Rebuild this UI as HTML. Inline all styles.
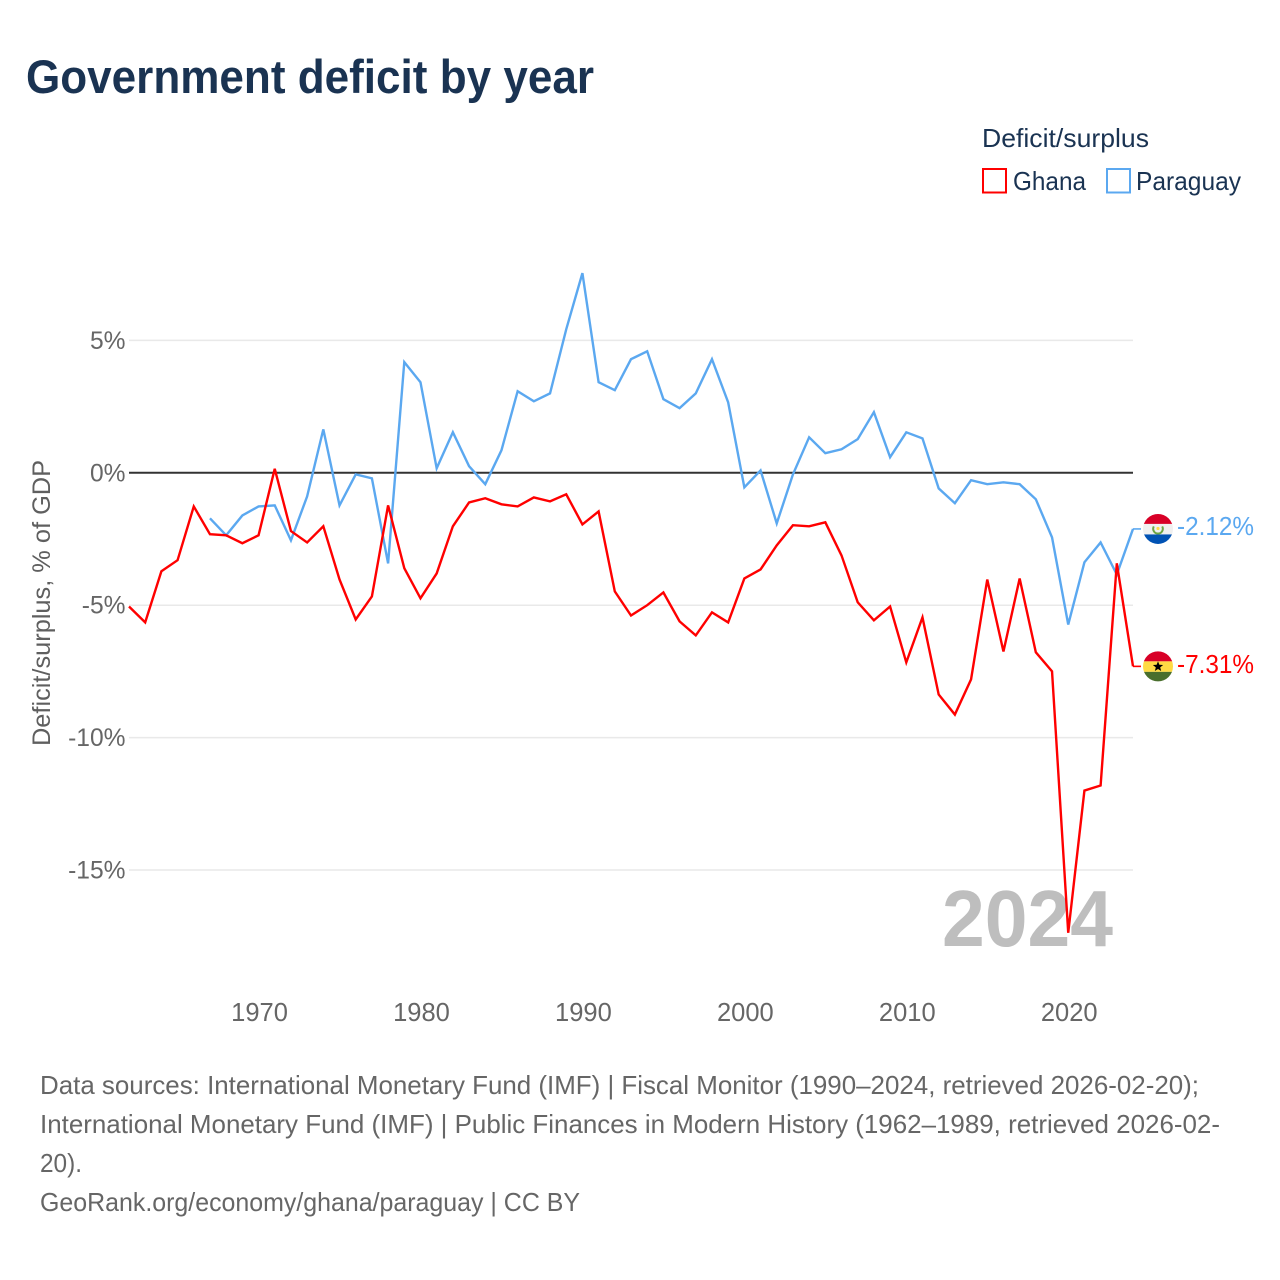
<!DOCTYPE html>
<html lang="en">
<head>
<meta charset="utf-8">
<title>Government deficit by year</title>
<style>
html,body{margin:0;padding:0;background:#fff;width:1280px;height:1280px;overflow:hidden}
svg{display:block;font-family:"Liberation Sans",Arial,sans-serif}
</style>
</head>
<body>
<svg id="chart" xmlns="http://www.w3.org/2000/svg" width="1280" height="1280" viewBox="0 0 1280 1280">
  <rect x="0" y="0" width="1280" height="1280" fill="#ffffff"/>
  <text x="26" y="93" font-size="47" font-weight="700" fill="#1a3352" textLength="568" lengthAdjust="spacingAndGlyphs">Government deficit by year</text>

  <g>
    <text x="982" y="147" font-size="26" fill="#1a3352" textLength="167" lengthAdjust="spacingAndGlyphs">Deficit/surplus</text>
    <g>
      <rect x="983" y="169" width="23" height="23.5" fill="#ffffff" stroke="#ff0000" stroke-width="2"/>
      <text x="1013" y="190" font-size="26" fill="#1a3352" textLength="73" lengthAdjust="spacingAndGlyphs">Ghana</text>
    </g>
    <g>
      <rect x="1107" y="169" width="23" height="23.5" fill="#ffffff" stroke="#5ba8f0" stroke-width="2"/>
      <text x="1136" y="190" font-size="26" fill="#1a3352" textLength="105" lengthAdjust="spacingAndGlyphs">Paraguay</text>
    </g>
  </g>

  <text transform="rotate(-90 50 603)" x="50" y="603" text-anchor="middle" font-size="25" fill="#5f5f5f" textLength="286" lengthAdjust="spacingAndGlyphs">Deficit/surplus, % of GDP</text>

  <g id="grid"></g>
  <g id="yticks"></g>
  <g id="xticks"></g>

  <text x="942" y="946" font-size="80" font-weight="700" fill="#bebebe" textLength="171" lengthAdjust="spacingAndGlyphs">2024</text>

  <g id="series"></g>
  <g id="ends"></g>

  <g font-size="25.6" fill="#666666">
    <text x="40" y="1094" textLength="1159" lengthAdjust="spacingAndGlyphs">Data sources: International Monetary Fund (IMF) | Fiscal Monitor (1990–2024, retrieved 2026-02-20);</text>
    <text x="40" y="1133" textLength="1180" lengthAdjust="spacingAndGlyphs">International Monetary Fund (IMF) | Public Finances in Modern History (1962–1989, retrieved 2026-02-</text>
    <text x="40" y="1172" textLength="42" lengthAdjust="spacingAndGlyphs">20).</text>
    <text x="40" y="1211" textLength="540" lengthAdjust="spacingAndGlyphs">GeoRank.org/economy/ghana/paraguay | CC BY</text>
  </g>
</svg>
<script>
var ghanaYears = [1962,1963,1964,1965,1966,1967,1968,1969,1970,1971,1972,1973,1974,1975,1976,1977,1978,1979,1980,1981,1982,1983,1984,1985,1986,1987,1988,1989,1990,1991,1992,1993,1994,1995,1996,1997,1998,1999,2000,2001,2002,2003,2004,2005,2006,2007,2008,2009,2010,2011,2012,2013,2014,2015,2016,2017,2018,2019,2020,2021,2022,2023,2024];
var ghanaValues = [-5.05,-5.65,-3.72,-3.3,-1.27,-2.32,-2.36,-2.66,-2.36,0.15,-2.2,-2.63,-2.02,-4.03,-5.54,-4.67,-1.23,-3.6,-4.74,-3.8,-2.02,-1.12,-0.96,-1.19,-1.27,-0.93,-1.08,-0.81,-1.95,-1.46,-4.48,-5.39,-5.0,-4.52,-5.61,-6.14,-5.27,-5.65,-3.99,-3.65,-2.74,-1.98,-2.02,-1.87,-3.12,-4.89,-5.57,-5.05,-7.16,-5.46,-8.37,-9.13,-7.8,-4.03,-6.75,-3.99,-6.78,-7.5,-17.37,-12.0,-11.81,-3.42,-7.31];
var paraguayYears = [1967,1968,1969,1970,1971,1972,1973,1974,1975,1976,1977,1978,1979,1980,1981,1982,1983,1984,1985,1986,1987,1988,1989,1990,1991,1992,1993,1994,1995,1996,1997,1998,1999,2000,2001,2002,2003,2004,2005,2006,2007,2008,2009,2010,2011,2012,2013,2014,2015,2016,2017,2018,2019,2020,2021,2022,2023,2024];
var paraguayValues = [-1.72,-2.36,-1.61,-1.27,-1.23,-2.55,-0.89,1.64,-1.23,-0.06,-0.21,-3.42,4.18,3.42,0.17,1.53,0.25,-0.43,0.85,3.08,2.7,3.0,5.42,7.54,3.42,3.12,4.29,4.59,2.78,2.44,3.0,4.29,2.66,-0.55,0.09,-1.91,-0.06,1.34,0.74,0.89,1.27,2.29,0.59,1.53,1.3,-0.59,-1.15,-0.28,-0.43,-0.36,-0.43,-1.0,-2.44,-5.73,-3.38,-2.63,-3.84,-2.12];
var yTickValues = [5,0,-5,-10,-15];
var yTickLabels = ["5%","0%","-5%","-10%","-15%"];
var xTickValues = [1970,1980,1990,2000,2010,2020];
var xTickLabels = ["1970","1980","1990","2000","2010","2020"];
var ghanaEndLabel = "-7.31%";
var paraguayEndLabel = "-2.12%";

var NS = "http://www.w3.org/2000/svg";
function xScale(year){ return 129 + (year - 1962) * (1133 - 129) / (2024 - 1962); }
function yScale(v){ return 472.8 - v * 26.48; }
function mk(tag, attrs, parent){
  var el = document.createElementNS(NS, tag);
  for (var k in attrs) el.setAttribute(k, attrs[k]);
  parent.appendChild(el);
  return el;
}

var grid = document.getElementById("grid");
var yticks = document.getElementById("yticks");
var xticks = document.getElementById("xticks");
var series = document.getElementById("series");
var ends = document.getElementById("ends");

yTickValues.forEach(function(v, i){
  var isZero = v === 0;
  var line = mk("line", {x1:129, x2:1133, y1:yScale(v), y2:yScale(v), stroke:isZero ? "#333333" : "#e9e9e9", "stroke-width":isZero ? 2 : 1.5}, grid);
  
  
  var t = mk("text", {x:125.5, y:yScale(v) + 8.5, "text-anchor":"end", "font-size":24.6, fill:"#666666"}, yticks);
  
  
  t.textContent = yTickLabels[i];
});

xTickValues.forEach(function(year, i){
  var t = mk("text", {x:xScale(year) + 1, y:1021, "text-anchor":"middle", "font-size":25.5, fill:"#666666"}, xticks);
  
  
  t.textContent = xTickLabels[i];
});

function linePoints(years, values){
  return years.map(function(y, i){ return xScale(y).toFixed(2) + "," + yScale(values[i]).toFixed(2); });
}

var paraguayLine = mk("polyline", {points:linePoints(paraguayYears, paraguayValues).join(" "), fill:"none", stroke:"#5ba8f0", "stroke-width":2.4, "stroke-linejoin":"miter"}, series);



var ghanaLine = mk("polyline", {points:linePoints(ghanaYears, ghanaValues).join(" "), fill:"none", stroke:"#ff0000", "stroke-width":2.4, "stroke-linejoin":"miter"}, series);



function endMarker(lastYear, lastValue, color){
  var x = xScale(lastYear), y = yScale(lastValue);
  var c = mk("line", {x1:x, x2:x + 8, y1:y, y2:y, stroke:color, "stroke-width":1.6}, ends);
  
  
  return {x:x + 25, y:y};
}

function band(g, cx, cy, top, h, color){
  var r = mk("rect", {x:cx - 16, y:cy + top, width:32, height:h, fill:color}, g);
  
  
}

function flagGroup(id, p){
  var defs = mk("defs", {}, ends);
  var clip = mk("clipPath", {id:id}, defs);
  mk("circle", {cx:p.x, cy:p.y, r:15}, clip);
  var g = mk("g", {"clip-path":"url(#" + id + ")"}, ends);
  return g;
}

var pEnd = endMarker(paraguayYears[paraguayYears.length - 1], paraguayValues[paraguayValues.length - 1], "#5ba8f0");
var pFlag = flagGroup("clip-paraguay", pEnd);


band(pFlag, pEnd.x, pEnd.y, -16, 11, "#d80027");
band(pFlag, pEnd.x, pEnd.y, -5, 10.5, "#f0f0f0");
band(pFlag, pEnd.x, pEnd.y, 5.5, 11, "#0052b4");
var pRing = mk("path", {d:"M" + (pEnd.x - 4.2) + " " + (pEnd.y - 2.5) + "A4.8 4.8 0 1 0 " + (pEnd.x + 4.2) + " " + (pEnd.y - 2.5), fill:"none", stroke:"#6da544", "stroke-width":2}, pFlag);


var pStar = mk("circle", {cx:pEnd.x, cy:pEnd.y - 0.5, r:1.6, fill:"#ffda44"}, pFlag);



var gEnd = endMarker(ghanaYears[ghanaYears.length - 1], ghanaValues[ghanaValues.length - 1], "#ff0000");
var gFlag = flagGroup("clip-ghana", gEnd);


band(gFlag, gEnd.x, gEnd.y, -16, 11, "#d80027");
band(gFlag, gEnd.x, gEnd.y, -5, 10.5, "#ffda44");
band(gFlag, gEnd.x, gEnd.y, 5.5, 11, "#496e2d");
var starPts = [];
for (var s = 0; s < 10; s++){
  var ang = -Math.PI / 2 + s * Math.PI / 5;
  var rad = s % 2 ? 2.3 : 5.4;
  starPts.push((gEnd.x + rad * Math.cos(ang)).toFixed(2) + "," + (gEnd.y + 0.3 + rad * Math.sin(ang)).toFixed(2));
}
var gStar = mk("polygon", {points:starPts.join(" "), fill:"#000000"}, gFlag);



var pText = mk("text", {x:1177, y:pEnd.y + 6, "font-size":26, fill:"#5ba8f0", textLength:77, lengthAdjust:"spacingAndGlyphs"}, ends);


pText.textContent = paraguayEndLabel;

var gText = mk("text", {x:1177, y:gEnd.y + 6.5, "font-size":26, fill:"#ff0000", textLength:77, lengthAdjust:"spacingAndGlyphs"}, ends);


gText.textContent = ghanaEndLabel;
</script>
</body>
</html>
